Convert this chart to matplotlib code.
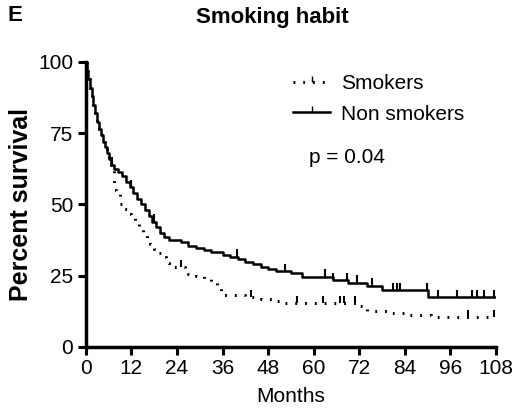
import numpy as np
import matplotlib.pyplot as plt
from matplotlib.lines import Line2D

plt.rcParams['font.family'] = ['Liberation Sans', 'DejaVu Sans']

# Kaplan-Meier curves (months, percent survival)
non_t = [0, .3, .6, 1, 1.5, 2, 2.5, 3, 3.5, 4, 4.5, 5, 5.5, 6, 6.5, 7.5, 8.5, 9.5,
         10.5, 11.5, 12.5, 13.5, 14.5, 15.5, 16.5, 17.5, 18.5, 19.5, 20.5, 22, 25,
         27, 29, 31, 33, 36, 38, 40, 42, 44, 46, 48, 50, 54, 57, 65, 69, 74, 78, 90]
non_s = [100, 97, 94, 91, 88, 85, 82, 79, 76.5, 74.5, 72, 70, 68, 66, 64, 62.5, 61.5,
         60, 58, 56, 54, 52, 50, 48, 46, 44, 42, 40, 38.5, 37.5, 36.8, 35.5, 34.7, 34,
         33.2, 32.4, 31.6, 30.7, 29.8, 29, 28.2, 27.4, 26.6, 25.8, 24.6, 23.5, 22.5,
         21.5, 20, 17.5]
non_cens = [12, 18, 39.7, 52.4, 62.9, 65, 68.7, 71.3, 75.3, 80.8, 81.8, 82.6, 89.7,
            92.6, 97.6, 101.8, 103, 104.9, 107.6]

smk_t = [0, .3, .6, 1, 1.5, 2, 2.5, 3, 3.5, 4, 4.5, 5, 5.5, 6, 6.5, 7.3, 8, 9, 10,
         11, 12, 13, 14, 15, 16, 17, 18, 19, 20, 21, 22, 26, 27, 29, 31, 33, 34.5,
         35.5, 36, 42, 46, 50, 52, 72, 73, 74, 80, 85, 91]
smk_s = [100, 97, 94, 91, 88, 85, 82, 79, 76.5, 74.5, 72, 70, 68, 66, 64, 55, 54,
         50, 48.5, 46.5, 45.5, 44, 42, 40, 38, 36, 34.5, 33, 31.5, 29.5, 28, 27,
         25.5, 24.8, 24, 22.5, 21, 19.5, 18.2, 17.5, 16.8, 16, 15.4, 14.5, 13.7,
         12.5, 11.8, 11.2, 10.5]
smk_cens = [7, 25, 43.5, 55.5, 62.5, 67, 68, 71, 100.5, 107.5]

x_ticks = [0, 12, 24, 36, 48, 60, 72, 84, 96, 108]
y_ticks = [0, 25, 50, 75, 100]


def km_at(t, s, x):
    idx = np.searchsorted(t, x, side='right') - 1
    return np.array(s)[idx]


fig = plt.figure(figsize=(5.14, 4.16), dpi=100)
ax = fig.add_axes([0.167, 0.166, 0.798, 0.685])

dots = (0, (0.6, 2.6))
ax.step(non_t + [108], non_s + [non_s[-1]], where='post', color='black', lw=1.8)
ax.step(smk_t + [108], smk_s + [smk_s[-1]], where='post', color='black', lw=2.2,
        linestyle=dots)

# censor marks (small upward ticks)
ny = km_at(non_t, non_s, non_cens)
ax.vlines(non_cens, ny, ny + 2.6, color='black', lw=1.5)
sy = km_at(smk_t, smk_s, smk_cens)
ax.vlines(smk_cens, sy, sy + 2.6, color='black', lw=1.5)

ax.set_xlim(0, 108)
ax.set_ylim(0, 100)
ax.set_xticks(x_ticks)
ax.set_yticks(y_ticks)
ax.tick_params(direction='out', length=6, width=2.2, labelsize=15, pad=3)
for side in ['top', 'right']:
    ax.spines[side].set_visible(False)
for side in ['left', 'bottom']:
    ax.spines[side].set_linewidth(2.5)

ax.set_xlabel('Months', fontsize=15, labelpad=6)
ax.set_ylabel('Percent survival', fontsize=18, fontweight='bold', labelpad=4)
fig.text(0.529, 0.957, 'Smoking habit', fontsize=16, fontweight='bold',
         ha='center', va='center')
fig.text(0.015, 0.95, 'E', fontsize=16, fontweight='bold')

# legend handles: line with an upward censor tick
tick = [(0, 0), (0, 1)]
handles = [Line2D([0], [0], color='black', lw=2.2, linestyle=dots,
                  marker=tick, markersize=9),
           Line2D([0], [0], color='black', lw=1.8, marker=tick, markersize=9)]
ax.legend(handles, ['Smokers', 'Non smokers'], loc='upper left',
          bbox_to_anchor=(0.505, 0.957), frameon=False, fontsize=15,
          handlelength=1.8, handletextpad=0.5, labelspacing=0.55, borderpad=0,
          borderaxespad=0)
ax.text(0.545, 0.644, 'p = 0.04', transform=ax.transAxes, fontsize=15)

fig.savefig('out.png', dpi=100)
